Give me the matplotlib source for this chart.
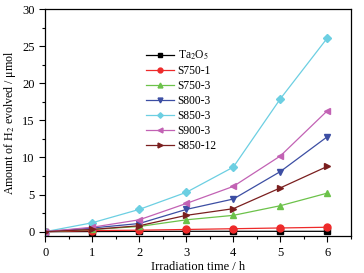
import numpy as np
import matplotlib.pyplot as plt
from matplotlib.ticker import MultipleLocator

plt.rcParams['font.family'] = ['Liberation Serif', 'DejaVu Serif']
plt.rcParams['mathtext.fontset'] = 'stix'

t = [0, 1, 2, 3, 4, 5, 6]
labels = ['Ta$_2$O$_5$', 'S750-1', 'S750-3', 'S800-3', 'S850-3', 'S900-3', 'S850-12']
ta2o5 = [0, 0.02, 0.04, 0.05, 0.05, 0.05, 0.05]
s750_1 = [0, 0.15, 0.2, 0.3, 0.4, 0.5, 0.6]
s750_3 = [0, 0.3, 0.7, 1.6, 2.2, 3.5, 5.2]
s800_3 = [0, 0.5, 1.1, 3.0, 4.4, 8.1, 12.8]
s850_3 = [0, 1.2, 3.0, 5.3, 8.7, 17.9, 26.1]
s900_3 = [0, 0.6, 1.6, 3.8, 6.1, 10.2, 16.3]
s850_12 = [0, 0.3, 0.8, 2.2, 3.1, 5.9, 8.8]

series = [ta2o5, s750_1, s750_3, s800_3, s850_3, s900_3, s850_12]
colors = ['black', '#ee2a2a', '#6cc24a', '#3c4ea3', '#6ccfe2', '#c262b4', '#7a1f1f']
markers = ['s', 'o', '^', 'v', 'D', '<', '>']

fig = plt.figure(figsize=(3.64, 2.73), dpi=100)
ax = fig.add_axes([0.124, 0.135, 0.84, 0.832])

for ys, lab, c, m in zip(series, labels, colors, markers):
    ms = 4 if m == 'D' else 5
    ax.plot(t, ys, color=c, marker=m, markersize=ms, linewidth=0.9, label=lab)

ax.set_xlim(0, 6.5)
ax.set_ylim(-0.6, 30)
ax.xaxis.set_major_locator(MultipleLocator(1))
ax.xaxis.set_minor_locator(MultipleLocator(0.5))
ax.yaxis.set_major_locator(MultipleLocator(5))
ax.yaxis.set_minor_locator(MultipleLocator(2.5))
ax.tick_params(which='both', direction='out', labelsize=9, width=0.8)
ax.tick_params(which='major', length=4)
ax.tick_params(which='minor', length=2.5)
for s in ax.spines.values():
    s.set_linewidth(0.9)

ax.set_xlabel('Irradiation time / h', fontsize=9, labelpad=2)
ax.set_ylabel('Amount of H$_2$ evolved / \u03bcmol', fontsize=8.6, labelpad=3)

ax.legend(loc='upper left', bbox_to_anchor=(0.305, 0.86), frameon=False,
          fontsize=8.3, handlelength=2.4, handletextpad=0.3, markerscale=0.7,
          labelspacing=0.26, borderpad=0.2)

fig.savefig('out.png', dpi=100)
